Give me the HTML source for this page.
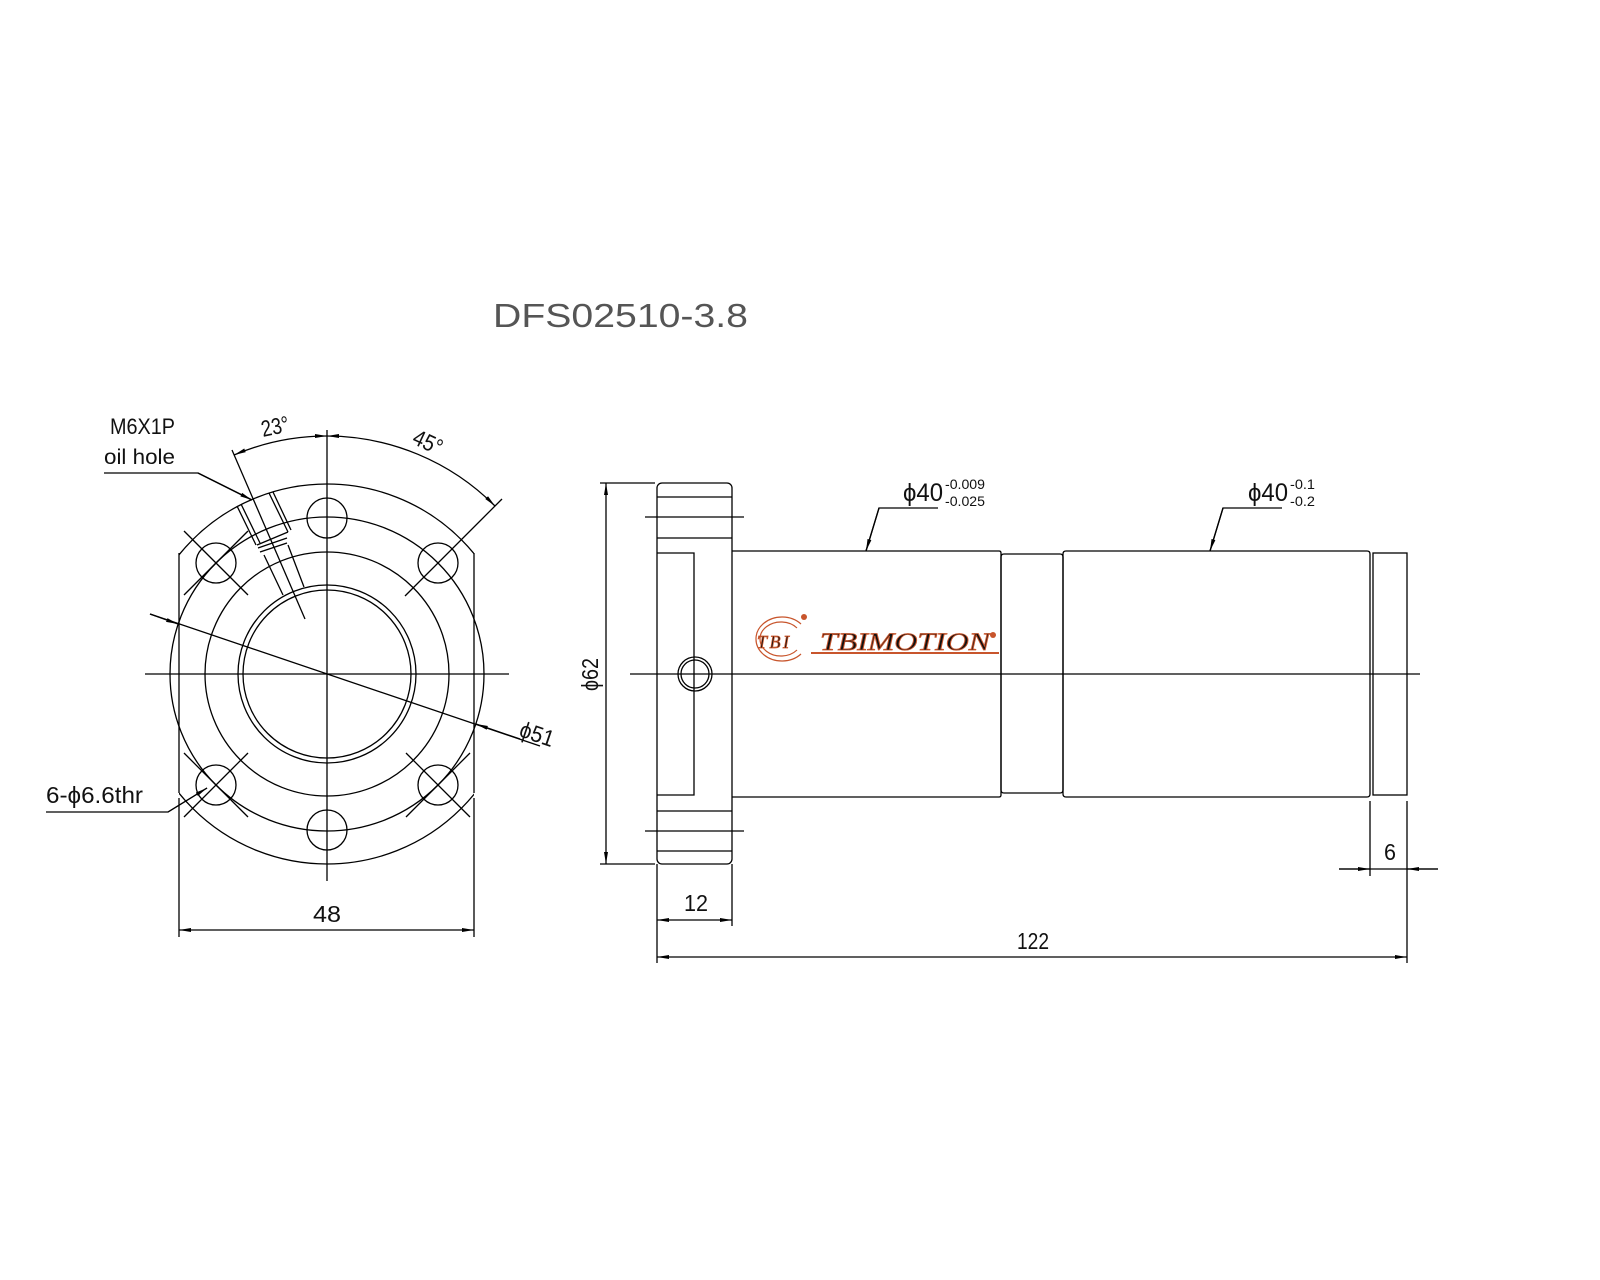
<!DOCTYPE html>
<html><head><meta charset="utf-8"><style>
html,body{margin:0;padding:0;background:#fff;}
svg{display:block;}
text{font-family:"Liberation Sans Narrow","Liberation Sans",sans-serif;fill:#111;}
</style></head><body>
<svg width="1600" height="1280" viewBox="0 0 1600 1280" xmlns="http://www.w3.org/2000/svg">
<defs>
<marker id="a" markerWidth="12" markerHeight="6" refX="12" refY="3" orient="auto-start-reverse" markerUnits="userSpaceOnUse"><path d="M0,1 L12,3 L0,5z" fill="#000"/></marker>
<clipPath id="mid"><rect x="179" y="0" width="295" height="1280"/></clipPath>
</defs>
<g stroke="#000" stroke-width="1.3" fill="none">
<line x1="145" y1="674" x2="509" y2="674"/>
<line x1="327" y1="430" x2="327" y2="881"/>
<circle cx="327" cy="674" r="190" clip-path="url(#mid)"/>
<line x1="179" y1="553" x2="179" y2="793"/>
<line x1="474" y1="553" x2="474" y2="793"/>
<circle cx="327" cy="674" r="157"/>
<circle cx="327" cy="674" r="122"/>
<circle cx="327" cy="674" r="89"/>
<circle cx="327" cy="674" r="84"/>
<circle cx="327" cy="518" r="20"/>
<circle cx="327" cy="830" r="20"/>
<circle cx="216" cy="563" r="20"/>
<circle cx="438" cy="563" r="20"/>
<circle cx="216" cy="785" r="20"/>
<circle cx="438" cy="785" r="20"/>
<line x1="184" y1="531" x2="248" y2="595"/>
<line x1="248" y1="531" x2="184" y2="595"/>
<line x1="184" y1="817" x2="248" y2="753"/>
<line x1="184" y1="753" x2="248" y2="817"/>
<line x1="406" y1="753" x2="470" y2="817"/>
<line x1="406" y1="817" x2="470" y2="753"/>
<line x1="405" y1="596" x2="502" y2="499"/>
<line x1="232" y1="450" x2="305" y2="619"/>
<line x1="237" y1="506" x2="256" y2="545"/>
<line x1="241" y1="504" x2="260" y2="543"/>
<line x1="269" y1="493" x2="288" y2="532"/>
<line x1="273" y1="492" x2="291" y2="530"/>
<line x1="257" y1="545" x2="288" y2="532"/>
<line x1="258" y1="548" x2="287" y2="538"/>
<line x1="260" y1="552" x2="287" y2="543"/>
<line x1="264" y1="555" x2="283" y2="595"/>
<line x1="288" y1="545" x2="304" y2="587"/>
<path d="M234,455 A238,238 0 0 1 327,436" marker-start="url(#a)" marker-end="url(#a)"/>
<path d="M327,436 A238,238 0 0 1 495,506" marker-start="url(#a)" marker-end="url(#a)"/>
<line x1="150" y1="614" x2="540" y2="746"/>
<line x1="150" y1="614" x2="178" y2="624" marker-end="url(#a)"/>
<line x1="520" y1="739" x2="476" y2="724" marker-end="url(#a)"/>
<polyline points="104,473 198,473 252,500" />
<line x1="198" y1="473" x2="252" y2="500" marker-end="url(#a)"/>
<polyline points="46,812 168,812 207,788"/>
<line x1="168" y1="812" x2="207" y2="788" marker-end="url(#a)"/>
<line x1="179" y1="798" x2="179" y2="937"/>
<line x1="474" y1="798" x2="474" y2="937"/>
<line x1="179" y1="930" x2="474" y2="930" marker-start="url(#a)" marker-end="url(#a)"/>

<line x1="630" y1="674" x2="1420" y2="674"/>
<rect x="657" y="483" width="75" height="381" rx="5"/>
<line x1="657" y1="497" x2="732" y2="497"/>
<line x1="645" y1="517" x2="744" y2="517"/>
<line x1="657" y1="538" x2="732" y2="538"/>
<polyline points="657,553 694,553 694,795 657,795"/>
<line x1="657" y1="811" x2="732" y2="811"/>
<line x1="645" y1="831" x2="744" y2="831"/>
<line x1="657" y1="851" x2="732" y2="851"/>
<circle cx="695" cy="674" r="17"/>
<circle cx="695" cy="674" r="14"/>
<path d="M732,551 H999 Q1001,551 1001,553 V795 Q1001,797 999,797 H732"/>
<path d="M1004,554 H1060 Q1063,554 1063,557 V790 Q1063,793 1060,793 H1004 Q1001,793 1001,790 V557 Q1001,554 1004,554Z"/>
<path d="M1066,551 H1367 Q1370,551 1370,554 V794 Q1370,797 1367,797 H1066 Q1063,797 1063,794 V554 Q1063,551 1066,551Z"/>
<rect x="1373" y="553" width="34" height="242"/>
<line x1="600" y1="483" x2="655" y2="483"/>
<line x1="600" y1="864" x2="655" y2="864"/>
<line x1="606" y1="483" x2="606" y2="864" marker-start="url(#a)" marker-end="url(#a)"/>
<polyline points="938,508 879,508 866,551"/>
<line x1="879" y1="508" x2="866" y2="551" marker-end="url(#a)"/>
<polyline points="1282,508 1223,508 1210,551"/>
<line x1="1223" y1="508" x2="1210" y2="551" marker-end="url(#a)"/>
<line x1="657" y1="864" x2="657" y2="963"/>
<line x1="732" y1="864" x2="732" y2="926"/>
<line x1="657" y1="920" x2="732" y2="920" marker-start="url(#a)" marker-end="url(#a)"/>
<line x1="657" y1="957" x2="1407" y2="957" marker-start="url(#a)" marker-end="url(#a)"/>
<line x1="1407" y1="801" x2="1407" y2="963"/>
<line x1="1370" y1="801" x2="1370" y2="876"/>
<line x1="1339" y1="869" x2="1438" y2="869"/>
<line x1="1339" y1="869" x2="1370" y2="869" marker-end="url(#a)"/>
<line x1="1438" y1="869" x2="1407" y2="869" marker-end="url(#a)"/>
</g>

<g stroke="#c8552c" fill="none" stroke-width="1.2">
<path d="M801,624 A26,22 0 1 0 801,654"/>
<path d="M797,628 A21,17 0 1 0 797,650"/>
<line x1="811" y1="653" x2="999" y2="653" stroke-width="2"/>
</g>
<circle cx="804" cy="617" r="3" fill="#c8552c"/>
<circle cx="993" cy="635" r="3" fill="#c8552c"/>
<text x="757" y="648" font-style="italic" font-size="18" fill="#fff" stroke="#c8552c" stroke-width="0.8" textLength="32" style="font-family:'Liberation Serif',serif">TBI</text>
<text x="820" y="650" font-style="italic" font-size="25" fill="#fff" stroke="#c8552c" stroke-width="0.8" textLength="170" lengthAdjust="spacingAndGlyphs" style="font-family:'Liberation Serif',serif">TBIMOTION</text>

<text x="493" y="327" font-size="33" textLength="255" lengthAdjust="spacingAndGlyphs" style="fill:#555">DFS02510-3.8</text>
<text x="110" y="434" font-size="22" textLength="65" lengthAdjust="spacingAndGlyphs">M6X1P</text>
<text x="104" y="464" font-size="21" textLength="71" lengthAdjust="spacingAndGlyphs">oil hole</text>
<text x="46" y="803" font-size="23" textLength="97" lengthAdjust="spacingAndGlyphs">6-ϕ6.6thr</text>
<text x="313" y="922" font-size="23" textLength="28" lengthAdjust="spacingAndGlyphs">48</text>
<text x="0" y="0" font-size="23" transform="translate(263,437) rotate(-12)" textLength="28" lengthAdjust="spacingAndGlyphs">23°</text>
<text x="0" y="0" font-size="23" transform="translate(411,443) rotate(25)" textLength="30" lengthAdjust="spacingAndGlyphs">45°</text>
<text x="0" y="0" font-size="23" transform="translate(518,736) rotate(18.7)" textLength="35" lengthAdjust="spacingAndGlyphs">ϕ51</text>
<text x="0" y="0" font-size="23" transform="translate(598,691) rotate(-90)" textLength="33" lengthAdjust="spacingAndGlyphs">ϕ62</text>
<text x="903" y="501" font-size="25" textLength="40" lengthAdjust="spacingAndGlyphs">ϕ40</text>
<text x="945" y="489" font-size="14" textLength="40" lengthAdjust="spacingAndGlyphs">-0.009</text>
<text x="945" y="506" font-size="14" textLength="40" lengthAdjust="spacingAndGlyphs">-0.025</text>
<text x="1248" y="501" font-size="25" textLength="40" lengthAdjust="spacingAndGlyphs">ϕ40</text>
<text x="1290" y="489" font-size="14" textLength="25" lengthAdjust="spacingAndGlyphs">-0.1</text>
<text x="1290" y="506" font-size="14" textLength="25" lengthAdjust="spacingAndGlyphs">-0.2</text>
<text x="684" y="911" font-size="23" textLength="24" lengthAdjust="spacingAndGlyphs">12</text>
<text x="1017" y="949" font-size="23" textLength="32" lengthAdjust="spacingAndGlyphs">122</text>
<text x="1384" y="860" font-size="23" textLength="12" lengthAdjust="spacingAndGlyphs">6</text>
</svg>
</body></html>
